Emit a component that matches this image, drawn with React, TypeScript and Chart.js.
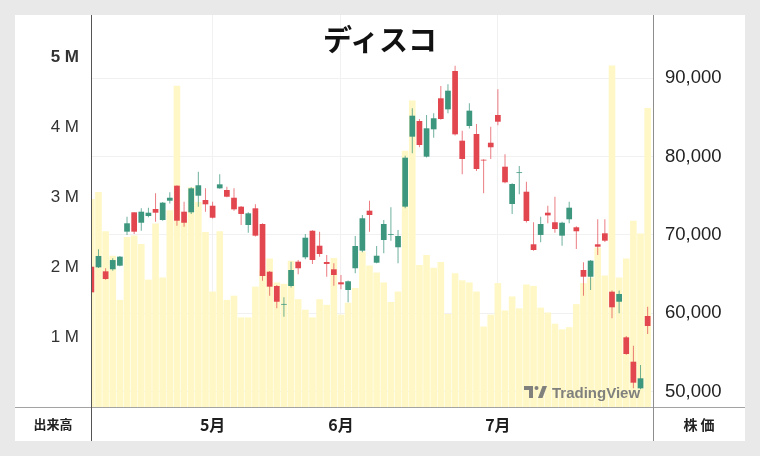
import React, { useEffect, useRef } from 'react';
import { Chart, registerables } from 'chart.js';

Chart.register(...registerables);

// ---- data ----
const opens = [
  65950, 65870, 65360, 65620, 66080, 70420, 72890, 71560, 72420, 73310,
  71910, 74370, 76290, 72970, 72890, 75010, 74460, 73730, 75950, 75740,
  74750, 73610, 71270, 73400, 71400, 65310, 63490, 61100, 63490, 66590,
  67150, 70540, 68630, 66550, 65620, 63960, 62980, 65750, 67990, 73100,
  66460, 69360, 70000, 68430, 73610, 82540, 84540, 79990, 83480, 87440,
  86030, 90920, 82030, 83900, 82880, 79600, 81770, 85310, 78710, 73950,
  77900, 75520, 68810, 70000, 72840, 71620, 69910, 72000, 70980, 65530,
  64670, 68810, 70210, 62760, 61480, 56940, 53830, 50430, 59660,
];
const highs = [
  66100, 68170, 65750, 67020, 67300, 72330, 72900, 73400, 73480, 75320,
  74200, 75440, 76300, 74240, 76100, 78070, 75950, 74240, 77740, 76160,
  75950, 73700, 72900, 73910, 71500, 65400, 63600, 62050, 66590, 66800,
  70120, 70600, 70420, 67440, 66380, 64890, 64200, 69870, 72550, 74370,
  68590, 71910, 73530, 70630, 80100, 86160, 84800, 85310, 85520, 89010,
  89230, 91600, 83300, 86800, 84160, 79650, 83810, 88590, 80290, 76600,
  78800, 76800, 71620, 72330, 73730, 74880, 71700, 74240, 71100, 66510,
  66800, 72000, 72000, 62900, 62900, 57100, 55870, 53400, 60850,
];
const lows = [
  62500, 65800, 64270, 65440, 66000, 70000, 70120, 70540, 72250, 71690,
  71800, 74000, 71180, 71050, 72680, 73610, 72970, 72100, 75900, 74800,
  73100, 71270, 70290, 69800, 64160, 62250, 60640, 59570, 63300, 64980,
  66900, 66300, 67230, 64670, 63530, 63070, 61410, 65110, 67800, 70420,
  66400, 67660, 69270, 66380, 73400, 80420, 81200, 79900, 82410, 84700,
  85520, 82700, 77740, 83600, 78160, 75320, 79690, 84000, 76600, 72680,
  75190, 71600, 68000, 69060, 71490, 70290, 68630, 71500, 68210, 62250,
  62980, 67440, 69100, 59370, 60000, 54700, 50430, 50300, 57360,
];
const closes = [
  62680, 67320, 64380, 66800, 67230, 71490, 70420, 72970, 72840, 72840,
  74120, 74750, 71820, 71560, 75950, 76340, 73910, 72200, 76460, 74880,
  73270, 72680, 72760, 69910, 64760, 63400, 61480, 61200, 65530, 65750,
  69650, 66810, 67570, 66300, 64890, 63700, 64090, 68590, 72130, 72550,
  67350, 71400, 70100, 69870, 79860, 85220, 81480, 83610, 84890, 84800,
  88410, 82840, 79690, 85860, 78420, 79500, 81190, 84450, 76720, 76500,
  78000, 71780, 68080, 71400, 72500, 70760, 71560, 73480, 70470, 64670,
  66720, 68500, 69270, 60770, 62470, 54810, 51150, 51710, 58380,
];
const volumes = [
  2.97e6, 3.07e6, 2.51e6, 2.16e6, 1.53e6, 2.43e6, 2.45e6, 2.33e6, 1.82e6, 2.62e6,
  1.85e6, 2.81e6, 4.59e6, 2.65e6, 3.14e6, 2.93e6, 2.50e6, 1.65e6, 2.51e6, 1.53e6,
  1.59e6, 1.28e6, 1.28e6, 1.72e6, 1.95e6, 2.12e6, 1.78e6, 1.76e6, 2.09e6, 1.54e6,
  1.39e6, 1.28e6, 1.54e6, 1.46e6, 2.13e6, 1.32e6, 1.49e6, 1.70e6, 2.22e6, 2.02e6,
  1.92e6, 1.78e6, 1.50e6, 1.65e6, 3.66e6, 4.38e6, 2.03e6, 2.17e6, 1.99e6, 2.07e6,
  1.33e6, 1.91e6, 1.81e6, 1.78e6, 1.65e6, 1.15e6, 1.32e6, 1.77e6, 1.38e6, 1.58e6,
  1.41e6, 1.75e6, 1.73e6, 1.42e6, 1.35e6, 1.19e6, 1.11e6, 1.14e6, 1.47e6, 1.77e6,
  1.85e6, 2.28e6, 1.88e6, 4.88e6, 1.85e6, 2.12e6, 2.66e6, 2.48e6, 4.27e6,
];
const monthTickIndex = [17, 35, 57];
const monthTickLabels = ['5月', '6月', '7月'];
const priceTicks = [50000, 60000, 70000, 80000, 90000];
const volumeTicks = [1e6, 2e6, 3e6, 4e6, 5e6];
const titleText = 'ディスコ';

const UP = '#3d967e';
const DOWN = '#e2464f';
const UP_WICK = 'rgba(61,150,126,0.75)';
const DOWN_WICK = 'rgba(226,70,79,0.7)';
const VOL = '#fff8c6';
const TICK_FONT = '"Liberation Sans", Arial, sans-serif';

const framePlugin = {
  id: 'frameLines',
  afterDraw(chart: any) {
    const { ctx, chartArea, width, height } = chart;
    ctx.save();
    ctx.lineWidth = 1;
    ctx.strokeStyle = '#a3a3a3';
    ctx.beginPath();
    ctx.moveTo(0, Math.round(chartArea.bottom) + 0.5);
    ctx.lineTo(width, Math.round(chartArea.bottom) + 0.5);
    ctx.stroke();
    ctx.strokeStyle = '#555555';
    ctx.beginPath();
    ctx.moveTo(Math.round(chartArea.left) + 0.5, 0);
    ctx.lineTo(Math.round(chartArea.left) + 0.5, height);
    ctx.stroke();
    ctx.strokeStyle = '#8e8e8e';
    ctx.beginPath();
    ctx.moveTo(Math.round(chartArea.right) + 0.5, 0);
    ctx.lineTo(Math.round(chartArea.right) + 0.5, height);
    ctx.stroke();
    ctx.restore();
  },
};

const noPad = (s: any) => {
  s.paddingTop = 0;
  s.paddingBottom = 0;
  s.paddingLeft = 0;
  s.paddingRight = 0;
};

function CandleChart() {
  const ref = useRef<HTMLCanvasElement | null>(null);
  useEffect(() => {
    if (!ref.current) return;
    const isUp = (i: number) => closes[i] >= opens[i];
    const chart = new Chart(ref.current, {
      type: 'bar',
      data: {
        labels: opens.map((_, i) => i),
        datasets: [
          {
            label: 'body',
            yAxisID: 'yPrice',
            data: opens.map((o, i) => [o, closes[i]]) as any,
            backgroundColor: (c: any) => (isUp(c.dataIndex) ? UP : DOWN),
            grouped: false,
            barPercentage: 0.8,
            categoryPercentage: 1,
            borderWidth: 0,
            order: 1,
          },
          {
            label: 'wick',
            yAxisID: 'yPrice',
            data: lows.map((l, i) => [l, highs[i]]) as any,
            backgroundColor: (c: any) => (isUp(c.dataIndex) ? UP_WICK : DOWN_WICK),
            grouped: false,
            barThickness: 1,
            borderWidth: 0,
            inflateAmount: 0,
            order: 2,
          },
          {
            label: 'volume',
            yAxisID: 'yVol',
            data: volumes,
            backgroundColor: VOL,
            grouped: false,
            barPercentage: 0.93,
            categoryPercentage: 1,
            borderWidth: 0,
            inflateAmount: 0,
            order: 3,
          },
        ] as any,
      },
      options: {
        animation: false,
        responsive: false,
        maintainAspectRatio: false,
        layout: { padding: 0 },
        plugins: { legend: { display: false }, tooltip: { enabled: false }, title: { display: false } },
        scales: {
          x: {
            type: 'linear',
            bounds: 'data',
            offset: false,
            min: -0.05,
            max: 78.75,
            position: 'bottom',
            afterFit: (s: any) => { s.height = 34; noPad(s); },
            afterBuildTicks: (s: any) => { s.ticks = monthTickIndex.map((v) => ({ value: v })); },
            grid: { color: '#f1f1f1', drawTicks: false, offset: false },
            border: { display: false },
            ticks: {
              autoSkip: false,
              maxRotation: 0,
              padding: 8,
              color: '#1e1e1e',
              font: { family: '"Noto Sans CJK JP", sans-serif', size: 16, weight: 'bold' },
              callback: (v: any) => {
                const k = monthTickIndex.indexOf(Number(v));
                return k >= 0 ? monthTickLabels[k] : '';
              },
            },
          },
          yVol: {
            type: 'linear',
            position: 'left',
            min: 0,
            max: 5.6e6,
            afterFit: (s: any) => { s.width = 76; noPad(s); },
            afterBuildTicks: (s: any) => { s.ticks = volumeTicks.map((v) => ({ value: v })); },
            grid: { display: false, drawTicks: false },
            border: { display: false },
            ticks: {
              padding: 12,
              color: '#333',
              font: (c: any) => ({
                family: TICK_FONT,
                size: 17,
                weight: c.tick && c.tick.value === 5e6 ? 'bold' : 'normal',
              }),
              callback: (v: any) => `${Number(v) / 1e6} M`,
            },
          },
          yPrice: {
            type: 'linear',
            position: 'right',
            min: 48048,
            max: 98067,
            afterFit: (s: any) => { s.width = 92; noPad(s); },
            afterBuildTicks: (s: any) => { s.ticks = priceTicks.map((v) => ({ value: v })); },
            grid: { color: '#f1f1f1', drawTicks: false },
            border: { display: false },
            ticks: {
              padding: 12,
              color: '#222',
              font: { family: TICK_FONT, size: 18.5 },
              callback: (v: any) => Number(v).toLocaleString('en-US'),
            },
          },
        },
      } as any,
      plugins: [framePlugin],
    });
    return () => chart.destroy();
  }, []);
  return <canvas ref={ref} width={730} height={426} style={{ display: 'block', width: 730, height: 426 }} />;
}

export default function App() {
  return (
    <div style={{ position: 'fixed', left: 0, top: 0, width: 760, height: 456, background: '#e9e9e9', overflow: 'hidden' }}>
      <div style={{ position: 'absolute', left: 15, top: 15, width: 730, height: 426, background: '#ffffff' }}>
        <CandleChart />
        <div
          style={{
            position: 'absolute', left: 0, top: 4, width: 730, height: 38, lineHeight: '38px',
            textAlign: 'center', fontFamily: '"Noto Sans CJK JP", sans-serif', fontSize: 29,
            fontWeight: 600, color: '#111', pointerEvents: 'none',
          }}
        >
          {titleText}
        </div>
        <div
          style={{
            position: 'absolute', left: 0, top: 392, width: 76, height: 34, lineHeight: '34px',
            textAlign: 'center', fontFamily: '"Noto Sans CJK JP", sans-serif', fontSize: 13,
            fontWeight: 700, color: '#222',
          }}
        >
          出来高
        </div>
        <div
          style={{
            position: 'absolute', left: 638, top: 392, width: 92, height: 34, lineHeight: '34px',
            textAlign: 'center', fontFamily: '"Noto Sans CJK JP", sans-serif', fontSize: 14,
            fontWeight: 700, color: '#222', letterSpacing: 3, textIndent: 3,
          }}
        >
          株価
        </div>
        <div
          style={{
            position: 'absolute', left: 509, top: 368, height: 18, display: 'flex', alignItems: 'center',
            gap: 5, color: '#7a7a7a', fontFamily: TICK_FONT, fontSize: 15, fontWeight: 700,
            pointerEvents: 'none', opacity: 0.95,
          }}
        >
          <svg width="23" height="12" viewBox="0 0 23 12">
            <path d="M0 0 H9 V12 H5 V4 H0 Z" fill="#7a7a7a" />
            <circle cx="12.5" cy="2" r="2" fill="#7a7a7a" />
            <path d="M18.5 0 H23 L18.5 12 H14 Z" fill="#7a7a7a" />
          </svg>
          <span>TradingView</span>
        </div>
      </div>
    </div>
  );
}
